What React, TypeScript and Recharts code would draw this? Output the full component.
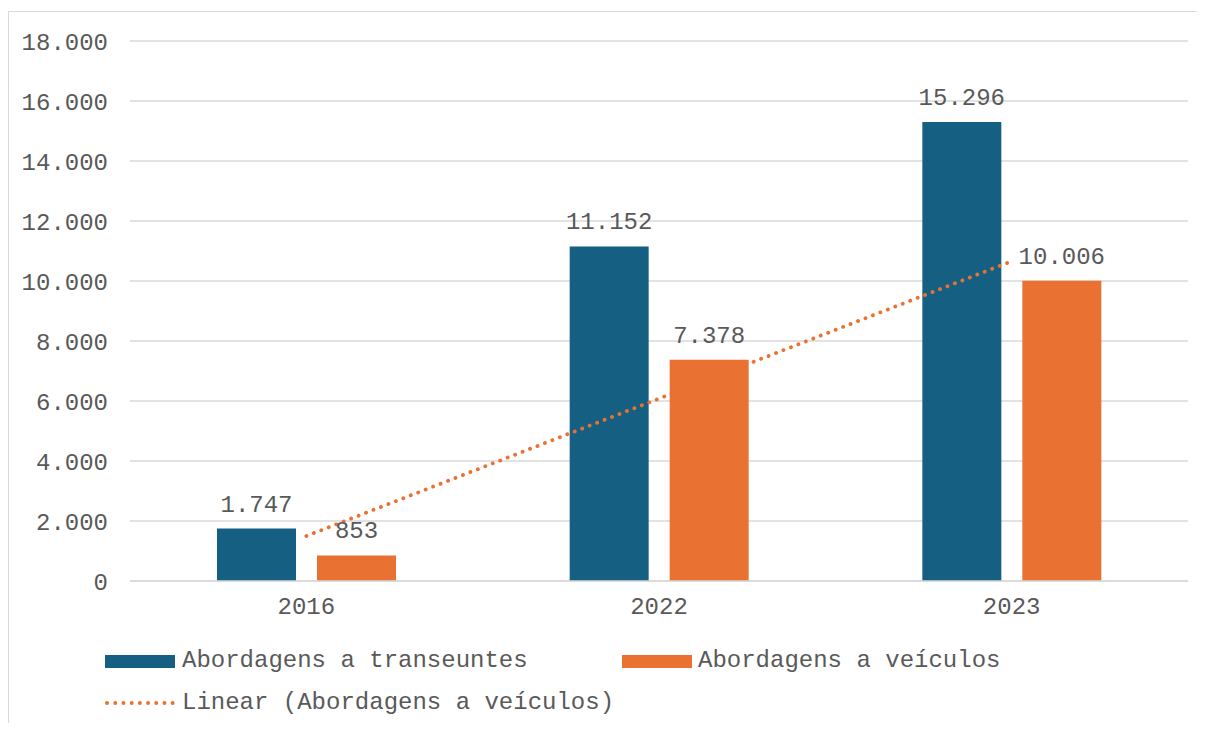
import React from "react";
import {
  ComposedChart,
  Bar,
  Line,
  XAxis,
  YAxis,
  CartesianGrid,
  LabelList,
} from "recharts";

const categories = ["2016", "2022", "2023"];
const transeuntes = [1747, 11152, 15296];
const veiculos = [853, 7378, 10006];
const trendVeiculos = [1500, 6080, 10660];
const yTicks = [0, 2000, 4000, 6000, 8000, 10000, 12000, 14000, 16000, 18000];

const seriesNames = {
  transeuntes: "Abordagens a transeuntes",
  veiculos: "Abordagens a veículos",
  trend: "Linear (Abordagens a veículos)",
};

const data = categories.map((c, i) => ({
  name: c,
  transeuntes: transeuntes[i],
  veiculos: veiculos[i],
  trend: trendVeiculos[i],
}));

const BLUE = "#156082";
const ORANGE = "#E97132";
const TEXT = "#595959";
const GRID = "#d9d9d9";
const FONT = "'Liberation Mono', 'Courier New', monospace";

function fmt(v: number): string {
  const s = String(Math.round(v));
  return s.replace(/\B(?=(\d{3})+(?!\d))/g, ".");
}

export default function App() {
  return (
    <div
      style={{
        position: "relative",
        width: 1189,
        height: 715,
        fontFamily: FONT,
        overflow: "hidden",
      }}
    >
      <div
        style={{
          position: "absolute",
          left: 0,
          top: 3,
          width: 1189,
          height: 712,
          borderLeft: `1.5px solid ${GRID}`,
          borderTop: `1.5px solid ${GRID}`,
          boxSizing: "border-box",
        }}
      />
      <div style={{ position: "absolute", left: 0, top: 0 }}>
        <ComposedChart
          width={1189}
          height={715}
          data={data}
          margin={{ top: 33, right: 9, left: 0, bottom: 102 }}
          barGap={21}
        >
          <CartesianGrid vertical={false} stroke={GRID} strokeWidth={1.5} />
          <XAxis
            dataKey="name"
            height={40}
            tickLine={false}
            axisLine={{ stroke: GRID, strokeWidth: 1.5 }}
            tick={{ fill: TEXT, fontSize: 24, fontFamily: FONT }}
            tickMargin={10}
          />
          <YAxis
            width={122}
            domain={[0, 18000]}
            ticks={yTicks}
            interval={0}
            tickFormatter={fmt}
            tickLine={false}
            axisLine={false}
            tick={{ fill: TEXT, fontSize: 24, fontFamily: FONT }}
            tickMargin={16}
          />
          <Bar
            dataKey="transeuntes"
            name={seriesNames.transeuntes}
            fill={BLUE}
            barSize={79}
            isAnimationActive={false}
          >
            <LabelList
              dataKey="transeuntes"
              position="top"
              offset={17}
              formatter={(v: any) => fmt(Number(v))}
              style={{ fill: TEXT, fontSize: 24, fontFamily: FONT }}
            />
          </Bar>
          <Bar
            dataKey="veiculos"
            name={seriesNames.veiculos}
            fill={ORANGE}
            barSize={79}
            isAnimationActive={false}
          >
            <LabelList
              dataKey="veiculos"
              position="top"
              offset={17}
              formatter={(v: any) => fmt(Number(v))}
              style={{ fill: TEXT, fontSize: 24, fontFamily: FONT }}
            />
          </Bar>
          <Line
            dataKey="trend"
            name={seriesNames.trend}
            type="linear"
            stroke={ORANGE}
            strokeWidth={3.8}
            strokeLinecap="round"
            strokeDasharray="0.1 7.9"
            dot={false}
            activeDot={false}
            isAnimationActive={false}
          />
        </ComposedChart>
      </div>
      {/* Legend */}
      <div
        style={{
          position: "absolute",
          left: 97,
          top: 633,
          fontSize: 24,
          color: TEXT,
          fontFamily: FONT,
          lineHeight: "40px",
        }}
      >
        <div style={{ display: "flex", alignItems: "center", height: 40 }}>
          <div style={{ display: "flex", alignItems: "center", width: 517 }}>
            <span
              style={{
                display: "inline-block",
                width: 70,
                height: 13,
                background: BLUE,
                marginRight: 7,
              }}
            />
            <span>{seriesNames.transeuntes}</span>
          </div>
          <div style={{ display: "flex", alignItems: "center" }}>
            <span
              style={{
                display: "inline-block",
                width: 70,
                height: 13,
                background: ORANGE,
                marginRight: 6,
              }}
            />
            <span>{seriesNames.veiculos}</span>
          </div>
        </div>
        <div style={{ display: "flex", alignItems: "center", height: 40, marginTop: 2 }}>
          <svg width={70} height={10} style={{ marginRight: 7 }}>
            <line
              x1={2}
              y1={5}
              x2={68}
              y2={5}
              stroke={ORANGE}
              strokeWidth={3.8}
              strokeLinecap="round"
              strokeDasharray="0.1 8.1"
            />
          </svg>
          <span>{seriesNames.trend}</span>
        </div>
      </div>
    </div>
  );
}
